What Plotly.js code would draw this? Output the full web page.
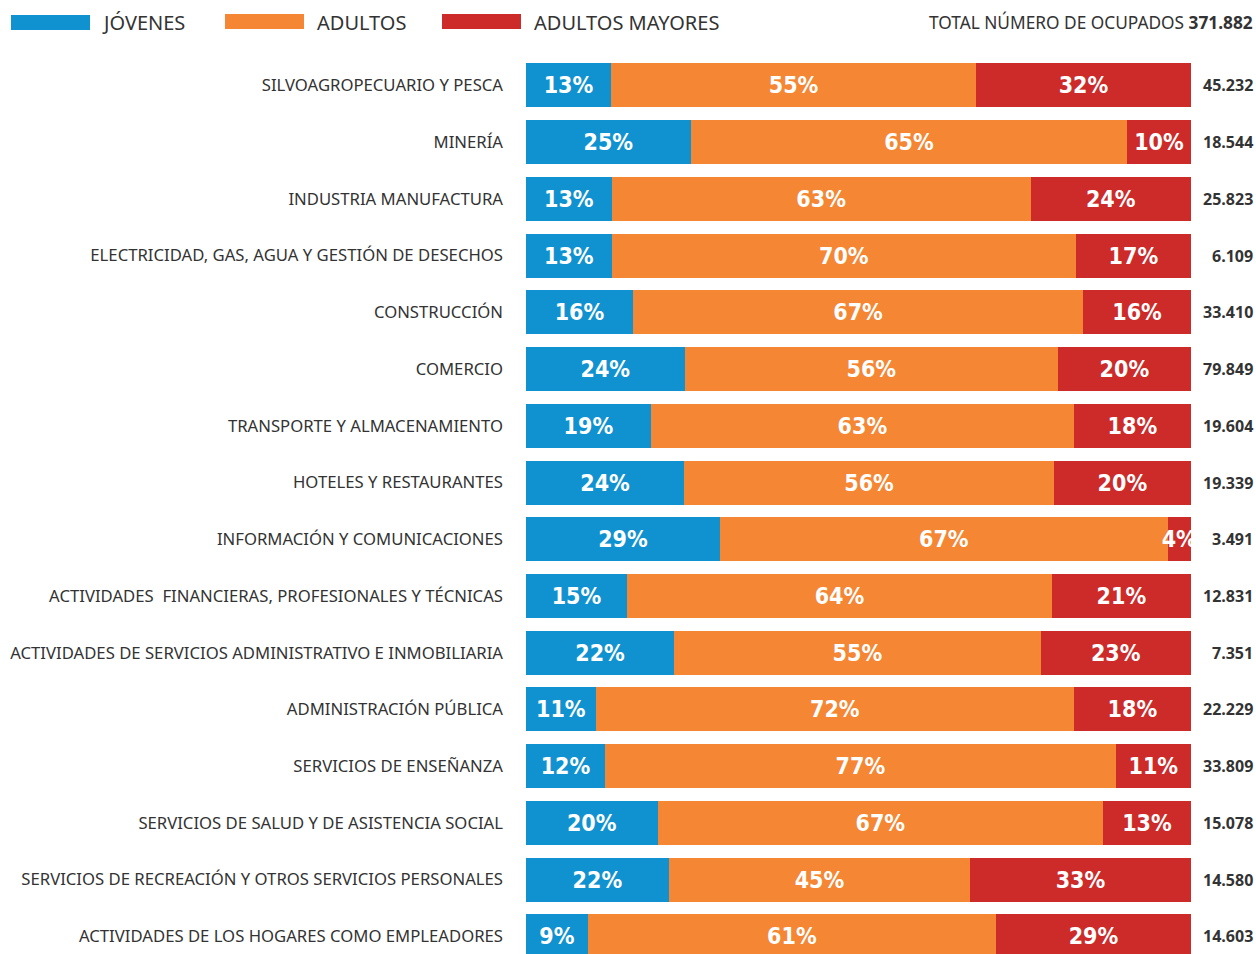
<!DOCTYPE html>
<html>
<head>
<meta charset="utf-8">
<script src="https://cdn.plot.ly/plotly-3.0.1.min.js"></script>
<style>html,body{margin:0;padding:0;background:#fff;}#chart{width:1256px;height:954px;}</style>
</head>
<body>
<div id="chart"></div>
<script>
const categories = [
  "SILVOAGROPECUARIO Y PESCA",
  "MINERÍA",
  "INDUSTRIA MANUFACTURA",
  "ELECTRICIDAD, GAS, AGUA Y GESTIÓN DE DESECHOS",
  "CONSTRUCCIÓN",
  "COMERCIO",
  "TRANSPORTE Y ALMACENAMIENTO",
  "HOTELES Y RESTAURANTES",
  "INFORMACIÓN Y COMUNICACIONES",
  "ACTIVIDADES  FINANCIERAS, PROFESIONALES Y TÉCNICAS",
  "ACTIVIDADES DE SERVICIOS ADMINISTRATIVO E INMOBILIARIA",
  "ADMINISTRACIÓN PÚBLICA",
  "SERVICIOS DE ENSEÑANZA",
  "SERVICIOS DE SALUD Y DE ASISTENCIA SOCIAL",
  "SERVICIOS DE RECREACIÓN Y OTROS SERVICIOS PERSONALES",
  "ACTIVIDADES DE LOS HOGARES COMO EMPLEADORES"
];
// printed (rounded) percentage labels
const jovenesLabel = [13, 25, 13, 13, 16, 24, 19, 24, 29, 15, 22, 11, 12, 20, 22, 9];
const adultosLabel = [55, 65, 63, 70, 67, 56, 63, 56, 67, 64, 55, 72, 77, 67, 45, 61];
const mayoresLabel = [32, 10, 24, 17, 16, 20, 18, 20, 4, 21, 23, 18, 11, 13, 33, 29];
// underlying shares
const jovenes = [12.8, 24.8, 12.9, 12.9, 16.1, 23.9, 18.8, 23.8, 29.2, 15.2, 22.3, 10.5, 11.9, 19.8, 21.5, 9.3];
const adultos = [54.9, 65.6, 63.0, 69.8, 67.7, 56.1, 63.6, 55.6, 67.3, 63.9, 55.1, 71.9, 76.8, 67.0, 45.3, 61.4];
const mayores = [32.3, 9.6, 24.1, 17.3, 16.2, 20.0, 17.6, 20.6, 3.5, 20.9, 22.6, 17.6, 11.3, 13.2, 33.2, 29.3];
const totals  = ["45.232","18.544","25.823","6.109","33.410","79.849","19.604","19.339","3.491","12.831","7.351","22.229","33.809","15.078","14.580","14.603"];
const seriesNames = ["JÓVENES", "ADULTOS", "ADULTOS MAYORES"];
const seriesColors = ["#1192d0", "#f48634", "#cd2a2a"];
const totalLabel = "TOTAL NÚMERO DE OCUPADOS";
const totalValue = "371.882";

const W = 1256, H = 954;
const mL = 526, mR = 65, mT = 57, mB = 0;
const plotW = W - mL - mR, plotH = H - mT - mB;
const pxX = px => (px - mL) / plotW;
const pxY = py => (H - mB - py) / plotH;

const barFont = {family: "'Liberation Sans Narrow', 'DejaVu Sans Condensed', 'Roboto', sans-serif", size: 23, color: "#ffffff", weight: 700};
const seriesData = [jovenes, adultos, mayores];
const seriesLabels = [jovenesLabel, adultosLabel, mayoresLabel];
const traces = seriesData.map((vals, k) => ({
  type: "bar",
  orientation: "h",
  name: seriesNames[k],
  x: vals,
  y: categories,
  text: seriesLabels[k],
  marker: {color: seriesColors[k], line: {width: 0}},
  texttemplate: "<b>%{text}%</b>",
  textposition: "inside",
  insidetextanchor: "middle",
  constraintext: "none",
  textangle: 0,
  insidetextfont: barFont,
  hoverinfo: "skip",
  cliponaxis: true
}));

const annotations = categories.map((c, i) => ({
  xref: "paper", yref: "y", x: 1, y: c, xanchor: "right", yanchor: "middle",
  xshift: mR - 1, showarrow: false, text: "<b>" + totals[i] + "</b>",
  font: {family: "'Open Sans', 'Noto Sans', sans-serif", size: 16, color: "#333333"}
}));
annotations.push({
  xref: "paper", yref: "paper", x: 1, y: pxY(22), xanchor: "right", yanchor: "middle",
  xshift: mR - 1, showarrow: false,
  text: totalLabel + " <b>" + totalValue + "</b>",
  font: {family: "'Noto Sans', sans-serif", size: 17.3, color: "#333333"}
});

const legendRects = [[11, 90, 15, 30], [225, 304, 14, 29], [442, 521, 14, 29]];
const legendTextX = [100, 315, 532];
const shapes = [];
seriesNames.forEach((n, k) => {
  const r = legendRects[k];
  shapes.push({type: "rect", xref: "paper", yref: "paper",
    x0: pxX(r[0]), x1: pxX(r[1]), y0: pxY(r[3]), y1: pxY(r[2]),
    fillcolor: seriesColors[k], line: {width: 0}});
  annotations.push({xref: "paper", yref: "paper", x: pxX(legendTextX[k]), y: pxY(22),
    xanchor: "left", yanchor: "middle", showarrow: false, text: n,
    font: {family: "'Noto Sans', sans-serif", size: 20, color: "#333333"}});
});

const n = categories.length;
const rowPx = (936 - 85) / (n - 1);
const bottomIdx = -0.5 + plotH / rowPx;

const layout = {
  width: W, height: H,
  margin: {l: mL, r: mR, t: mT, b: mB, pad: 0},
  paper_bgcolor: "#ffffff", plot_bgcolor: "#ffffff",
  barmode: "stack",
  bargap: 1 - 44 / rowPx,
  showlegend: false,
  hovermode: false,
  xaxis: {range: [0, 100], visible: false, fixedrange: true},
  yaxis: {
    type: "category",
    range: [bottomIdx, -0.5],
    autorange: false,
    showgrid: false, zeroline: false, showline: false,
    ticks: "", ticklabelstandoff: 22,
    tickfont: {family: "'Noto Sans', sans-serif", size: 16.7, color: "#333333"},
    fixedrange: true
  },
  annotations: annotations,
  shapes: shapes
};

Plotly.newPlot("chart", traces, layout, {displayModeBar: false, staticPlot: true});
</script>
</body>
</html>
